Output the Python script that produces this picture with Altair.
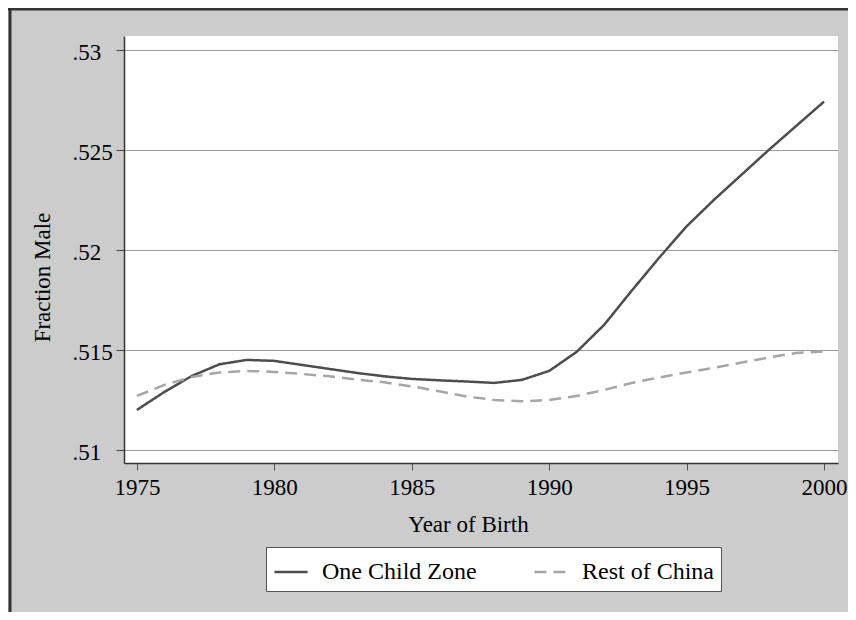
import altair as alt
import pandas as pd

years = list(range(1975, 2001))
one_child = [0.5120, 0.5129, 0.51370, 0.51428, 0.51450, 0.51445, 0.51425, 0.51405,
             0.51385, 0.51368, 0.51355, 0.51348, 0.51342, 0.51335, 0.51350, 0.51395,
             0.51490, 0.51625, 0.51795, 0.51960, 0.52117, 0.52250, 0.52375, 0.52500,
             0.52620, 0.52740]
rest_china = [0.51270, 0.51325, 0.51365, 0.51387, 0.51395, 0.51390, 0.51380, 0.51368,
              0.51352, 0.51338, 0.51318, 0.51293, 0.51267, 0.51250, 0.51243, 0.51250,
              0.51270, 0.51300, 0.51335, 0.51362, 0.51387, 0.51410, 0.51437, 0.51462,
              0.51485, 0.51492]
series_names = ["One Child Zone", "Rest of China"]
y_ticks = [0.51, 0.515, 0.52, 0.525, 0.53]
x_ticks = [1975, 1980, 1985, 1990, 1995, 2000]

df = pd.DataFrame({
    "year": years + years,
    "value": one_child + rest_china,
    "series": [series_names[0]] * len(years) + [series_names[1]] * len(years),
})

FONT = "Liberation Serif"
PAD_TXT = "\u2003" * 3

legend = alt.Legend(
    title=None, orient="none", legendX=142, legendY=511, direction="horizontal",
    columns=2, fillColor="white", strokeColor="#555555", padding=7,
    symbolType="stroke", symbolSize=1100, symbolStrokeWidth=2.5,
    labelFont=FONT, labelFontSize=24, labelColor="black", labelOffset=13,
    columnPadding=52,
    labelExpr=f"datum.value == '{series_names[1]}' ? datum.value + '{PAD_TXT}' : datum.value",
)

lines = alt.Chart(df).mark_line(strokeWidth=2.5).encode(
    x=alt.X("year:Q",
            scale=alt.Scale(domain=[1974.53, 2000.51], nice=False, zero=False),
            axis=alt.Axis(values=x_ticks, format="d", title="Year of Birth", grid=False,
                          tickSize=7, tickColor="#555555", domainColor="#333333",
                          domainWidth=1.5, labelFont=FONT, labelFontSize=23,
                          labelColor="black", labelBaseline="alphabetic", labelPadding=24,
                          labelFlush=False,
                          titleFont=FONT, titleFontSize=23, titleFontWeight="normal",
                          titleColor="black", titleX=344, titleY=68, titleAlign="center",
                          titleBaseline="alphabetic", titleAnchor="start")),
    y=alt.Y("value:Q",
            scale=alt.Scale(domain=[0.50935, 0.53068], nice=False, zero=False),
            axis=alt.Axis(values=y_ticks,
                          labelExpr="substring(format(datum.value, '.3~f'), 1)",
                          title="Fraction Male", grid=True, gridColor="#999999",
                          gridWidth=1.2, tickSize=8, tickColor="#444444",
                          domainColor="#333333", domainWidth=1.5, labelFont=FONT,
                          labelFontSize=23, labelColor="black", labelAlign="left",
                          labelBaseline="alphabetic", labelPadding=44, labelOffset=10,
                          labelFlush=False,
                          titleFont=FONT, titleFontSize=23, titleFontWeight="normal",
                          titleColor="black", titleAngle=-90, titleX=-75, titleY=241,
                          titleAlign="center", titleBaseline="alphabetic",
                          titleAnchor="start")),
    color=alt.Color("series:N",
                    scale=alt.Scale(domain=series_names, range=["#4d4d4d", "#a6a6a6"]),
                    legend=legend),
    strokeDash=alt.StrokeDash("series:N",
                              scale=alt.Scale(domain=series_names, range=[[1, 0], [12, 7]]),
                              legend=legend),
)

one = pd.DataFrame({"k": [0]})
top_border = alt.Chart(one).mark_rule(color="#333333", strokeWidth=3).encode(
    x=alt.value(-116), x2=alt.value(724), y=alt.value(-27))
left_border = alt.Chart(one).mark_rule(color="#333333", strokeWidth=3).encode(
    x=alt.value(-114), y=alt.value(-28), y2=alt.value(576))

chart = alt.layer(lines, top_border, left_border).properties(
    width=714, height=427,
    autosize=alt.AutoSizeParams(type="none"),
    padding={"left": 116, "top": 28, "right": 10, "bottom": 149},
    background="#cccccc",
).configure_view(fill="white", stroke=None)

chart.save("out.html", embed_options={"renderer": "svg", "actions": False})
